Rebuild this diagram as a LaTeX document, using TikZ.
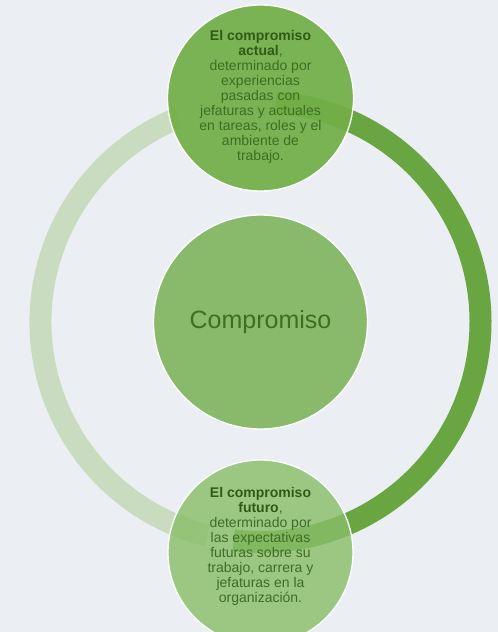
\documentclass[tikz,border=0pt]{standalone}
\usepackage{fontspec}
\setmainfont{Liberation Sans}
\definecolor{bg}{HTML}{EBEFF3}
\definecolor{lightarc}{HTML}{C9DCC0}
\definecolor{darkarc}{HTML}{69A540}
\definecolor{topfill}{HTML}{72AF47}
\definecolor{midfill}{HTML}{89BA6B}
\definecolor{botfill}{HTML}{88BD68}
\definecolor{txt}{HTML}{3E6E24}
\definecolor{txtb}{HTML}{2F5A17}
\begin{document}
\begin{tikzpicture}[x=1pt,y=1pt,
  ring/.style={line width=22pt},
  bubble/.style={circle, inner sep=0pt, draw=white, line width=1.3pt},
  smalltxt/.style={align=center, text=txt, font=\fontsize{14}{15}\selectfont, inner sep=0pt}]
\fill[bg] (0,0) rectangle (498,632);
\useasboundingbox (0,0) rectangle (498,632);
\coordinate (rc) at (260.5,310);
% ring arcs
\draw[ring, lightarc] (rc) ++(256:220) arc[start angle=256, end angle=112, radius=220];
\draw[ring, darkarc] (rc) ++(86:220) arc[start angle=86, end angle=-97, radius=220];
% circles
\node[bubble, fill=topfill, fill opacity=0.93, minimum size=186pt] (top) at (260.5,534) {};
\node[bubble, fill=midfill, minimum size=214pt] (mid) at (260.5,310) {};
\node[bubble, fill=botfill, fill opacity=0.8, minimum size=185pt] (bot) at (260.5,79.5) {};
% texts
\node[text=txt, font=\fontsize{25}{28}\selectfont] (midtxt) at (mid.center) {Compromiso};
\node[smalltxt] (toptxt) at (260.5,535.5) {{\color{txtb}\bfseries El compromiso}\\{\color{txtb}\bfseries actual},\\determinado por\\experiencias\\pasadas con\\jefaturas y actuales\\en tareas, roles y el\\ambiente de\\trabajo.};
\node[smalltxt] (bottxt) at (260.5,85.5) {{\color{txtb}\bfseries El compromiso}\\{\color{txtb}\bfseries futuro},\\determinado por\\las expectativas\\futuras sobre su\\trabajo, carrera y\\jefaturas en la\\organización.};
\end{tikzpicture}
\end{document}
